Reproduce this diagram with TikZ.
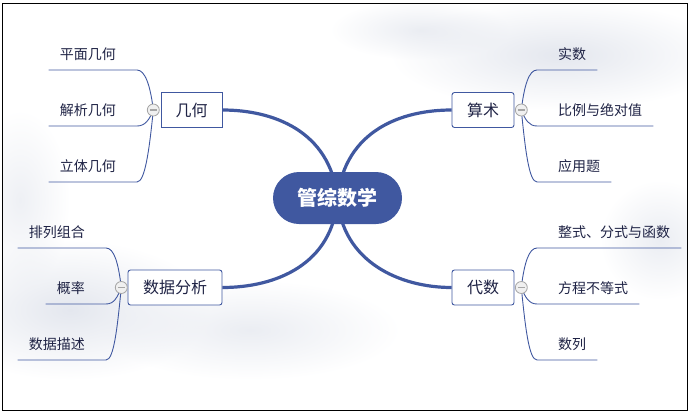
\documentclass[tikz,border=0pt]{standalone}
\usepackage{fontspec}
\newfontfamily\cjk{Noto Sans CJK SC}
\usetikzlibrary{calc,fadings}
\tikzfading[name=softblob, inner color=transparent!0, outer color=transparent!100]
\definecolor{mainblue}{HTML}{4058A0}
\definecolor{txt}{HTML}{1F2345}
\definecolor{bggray}{HTML}{DDE1EA}
\tikzset{
  rootnode/.style={fill=mainblue, text=white, rounded corners=26pt, minimum width=129pt, minimum height=52pt, inner sep=0pt, font=\cjk\bfseries\fontsize{20}{24}\selectfont},
  branch/.style={draw=mainblue, line width=0.9pt, fill=white, rounded corners=2.5pt, minimum height=35pt, inner sep=0pt, text=txt, font=\cjk\fontsize{16}{19}\selectfont},
  leaf/.style={inner xsep=11pt, inner ysep=7pt, text height=10pt, text depth=3pt, text=txt, font=\cjk\fontsize{14}{17}\selectfont},
  mainline/.style={draw=mainblue, line width=3.2pt},
  leafline/.style={draw=mainblue, line width=0.9pt},
  toggle/.style={circle, draw=gray!70, fill=gray!12, line width=0.8pt, minimum size=12pt, inner sep=0pt,
    path picture={\draw[gray!70, line width=1.6pt] ([xshift=-3.5pt]path picture bounding box.center) -- ([xshift=3.5pt]path picture bounding box.center);}},
  wash/.style={fill=bggray, path fading=softblob},
}
\begin{document}
\begin{tikzpicture}[x=1pt,y=-1pt]
\useasboundingbox (0,0) rectangle (690,415);
% faint ink-wash background
\begin{scope}
\clip (3,4) rectangle (687,409);
\fill[wash, opacity=0.8] (560,55) ellipse (170pt and 55pt);
\fill[wash, opacity=0.6] (420,30) ellipse (90pt and 30pt);
\fill[wash, opacity=0.8] (70,310) ellipse (140pt and 70pt);
\fill[wash, opacity=0.6] (250,330) ellipse (150pt and 50pt);
\fill[wash, opacity=0.6] (660,240) ellipse (60pt and 60pt);
\fill[wash, opacity=0.5] (20,200) ellipse (50pt and 90pt);
\end{scope}
\draw[black, line width=1pt] (2.5,3.5) rectangle (687.5,410);

% main nodes
\coordinate (rc) at (337.5,198);
\node[branch, rounded corners=0pt, minimum width=61pt] (ji) at (191.5,110) {几何};
\node[branch, minimum width=62pt] (suan) at (483,110) {算术};
\node[branch, minimum width=94pt] (shu) at (175,287.5) {数据分析};
\node[branch, minimum width=62pt] (dai) at (483,287.5) {代数};

\draw[mainline] (rc) .. controls (330,130) and (272,110) .. (ji.east);
\draw[mainline] (rc) .. controls (345,130) and (402,110) .. (suan.west);
\draw[mainline] (rc) .. controls (333,265) and (275,287.5) .. (shu.east);
\draw[mainline] (rc) .. controls (342,262) and (400,287.5) .. (dai.west);

\node[rootnode] (root) at (rc) {管综数学};

% leaves of 几何
\coordinate (cj) at (153.3,110);
\node[leaf, anchor=south east] (j1) at (127,70) {平面几何};
\node[leaf, anchor=south east] (j2) at (127,126) {解析几何};
\node[leaf, anchor=south east] (j3) at (127,182) {立体几何};
\draw[leafline] (cj) .. controls +(-3,-25) and +(8,0) .. ([xshift=10pt]j1.south east) -- (j1.south west);
\draw[leafline] (cj) .. controls +(-4,10) and +(8,0) .. ([xshift=10pt]j2.south east) -- (j2.south west);
\draw[leafline] (cj) .. controls +(-4,40) and +(8,0) .. ([xshift=10pt]j3.south east) -- (j3.south west);
\node[toggle] (tj) at (cj) {};

% leaves of 数据分析
\coordinate (cs) at (121.3,287.5);
\node[leaf, anchor=south east] (s1) at (96,248) {排列组合};
\node[leaf, anchor=south east] (s2) at (96,304) {概率};
\node[leaf, anchor=south east] (s3) at (96,360) {数据描述};
\draw[leafline] (cs) .. controls +(-3,-25) and +(8,0) .. ([xshift=10pt]s1.south east) -- (s1.south west);
\draw[leafline] (cs) .. controls +(-4,10) and +(8,0) .. ([xshift=10pt]s2.south east) -- (s2.south west);
\draw[leafline] (cs) .. controls +(-4,40) and +(8,0) .. ([xshift=10pt]s3.south east) -- (s3.south west);
\node[toggle] (ts) at (cs) {};

% leaves of 算术
\coordinate (ca) at (521.3,110);
\node[leaf, anchor=south west] (a1) at (547,70) {实数};
\node[leaf, anchor=south west] (a2) at (547,126) {比例与绝对值};
\node[leaf, anchor=south west] (a3) at (547,182) {应用题};
\draw[leafline] (ca) .. controls +(3,-25) and +(-8,0) .. ([xshift=-10pt]a1.south west) -- (a1.south east);
\draw[leafline] (ca) .. controls +(4,10) and +(-8,0) .. ([xshift=-10pt]a2.south west) -- (a2.south east);
\draw[leafline] (ca) .. controls +(4,40) and +(-8,0) .. ([xshift=-10pt]a3.south west) -- (a3.south east);
\node[toggle] (ta) at (ca) {};

% leaves of 代数
\coordinate (cd) at (521.3,287.5);
\node[leaf, anchor=south west] (d1) at (547,248) {整式、分式与函数};
\node[leaf, anchor=south west] (d2) at (547,304) {方程不等式};
\node[leaf, anchor=south west] (d3) at (547,360) {数列};
\draw[leafline] (cd) .. controls +(3,-25) and +(-8,0) .. ([xshift=-10pt]d1.south west) -- (d1.south east);
\draw[leafline] (cd) .. controls +(4,10) and +(-8,0) .. ([xshift=-10pt]d2.south west) -- (d2.south east);
\draw[leafline] (cd) .. controls +(4,40) and +(-8,0) .. ([xshift=-10pt]d3.south west) -- (d3.south east);
\node[toggle] (td) at (cd) {};
\end{tikzpicture}
\end{document}
